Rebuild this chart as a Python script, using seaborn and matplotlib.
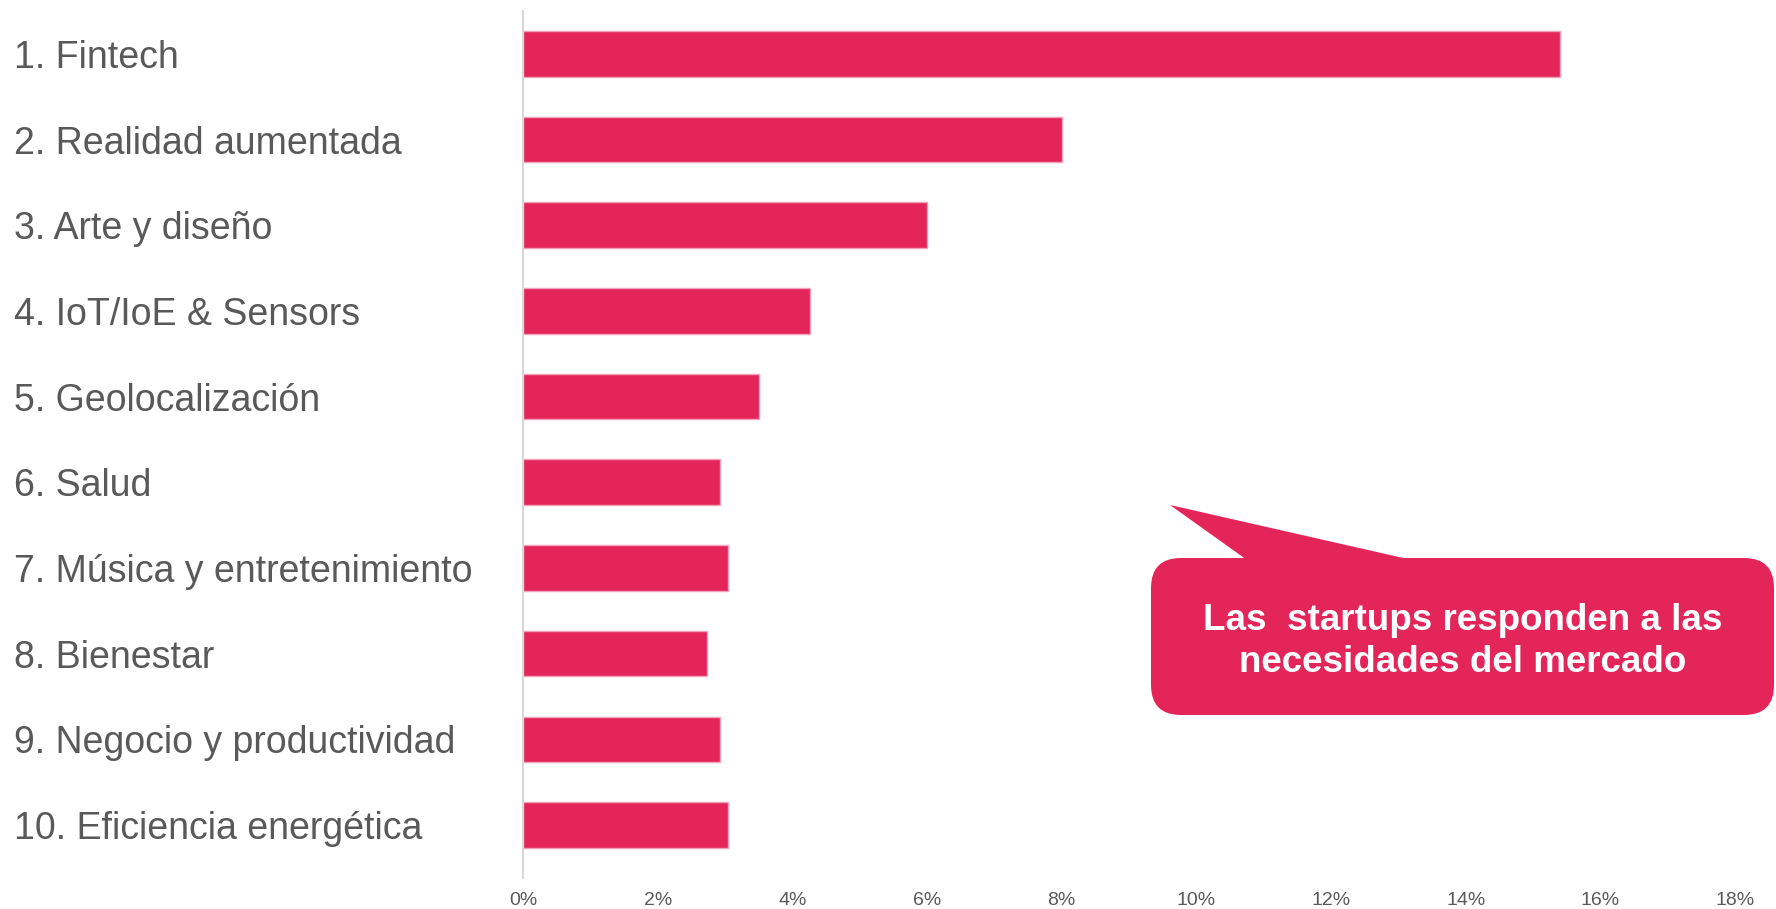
import seaborn as sns
import matplotlib.pyplot as plt
from matplotlib.patches import FancyBboxPatch, Polygon

categories = [
    '1. Fintech',
    '2. Realidad aumentada',
    '3. Arte y diseño',
    '4. IoT/IoE & Sensors',
    '5. Geolocalización',
    '6. Salud',
    '7. Música y entretenimiento',
    '8. Bienestar',
    '9. Negocio y productividad',
    '10. Eficiencia energética',
]
shares = [15.4, 8.0, 6.0, 4.26, 3.5, 2.93, 3.05, 2.73, 2.93, 3.05]
x_ticks = [0, 2, 4, 6, 8, 10, 12, 14, 16, 18]
x_tick_labels = [f'{t}%' for t in x_ticks]

callout_lines = ['Las  startups responden a las', 'necesidades del mercado']

bar_color = '#E4255A'
label_color = '#595959'

sns.set_style('white')
plt.rcParams['font.family'] = ['Liberation Sans', 'DejaVu Sans']

W, H = 1776, 909
fig = plt.figure(figsize=(W / 100, H / 100), dpi=100)
ax = fig.add_axes([523 / W, 1 - 878 / H, (1735 - 523) / W, (878 - 11) / H])

sns.barplot(x=shares, y=categories, orient='h', color=bar_color, width=0.53,
            edgecolor='#F2A3BB', linewidth=1, saturation=1, ax=ax)

ax.set_xlim(0, 18)
ax.set_ylim(9.62, -0.5)
ax.set_xticks(x_ticks)
ax.set_xticklabels(x_tick_labels, color=label_color, fontsize=14,
                   family=['Liberation Sans Narrow', 'Liberation Sans'])
ax.set_xlabel('')
ax.set_ylabel('')
ax.tick_params(axis='x', length=0, pad=10)
ax.tick_params(axis='y', length=0, pad=(523 - 14) * 0.72)
for lbl in ax.get_yticklabels():
    lbl.set_horizontalalignment('left')
    lbl.set_fontsize(27)
    lbl.set_color(label_color)

for side in ['top', 'right', 'bottom']:
    ax.spines[side].set_visible(False)
ax.spines['left'].set_color('#D9D9D9')
ax.spines['left'].set_linewidth(1.5)
ax.grid(False)

# callout bubble, drawn in pixel coordinates
ov = fig.add_axes([0, 0, 1, 1], zorder=5)
ov.set_xlim(0, W)
ov.set_ylim(H, 0)
ov.axis('off')
ov.patch.set_alpha(0)
ov.add_patch(FancyBboxPatch((1151, 558), 1774 - 1151, 715 - 558,
                            boxstyle='round,pad=0,rounding_size=30',
                            facecolor=bar_color, edgecolor='none'))
ov.add_patch(Polygon([(1170, 505), (1247, 560), (1412, 560)], closed=True,
                     facecolor=bar_color, edgecolor='none'))
ov.text(1463, 621, callout_lines[0], color='white', fontsize=26.5,
        fontweight='bold', ha='center', va='center')
ov.text(1463, 663, callout_lines[1], color='white', fontsize=26.5,
        fontweight='bold', ha='center', va='center')

fig.savefig('out.png', dpi=100)
